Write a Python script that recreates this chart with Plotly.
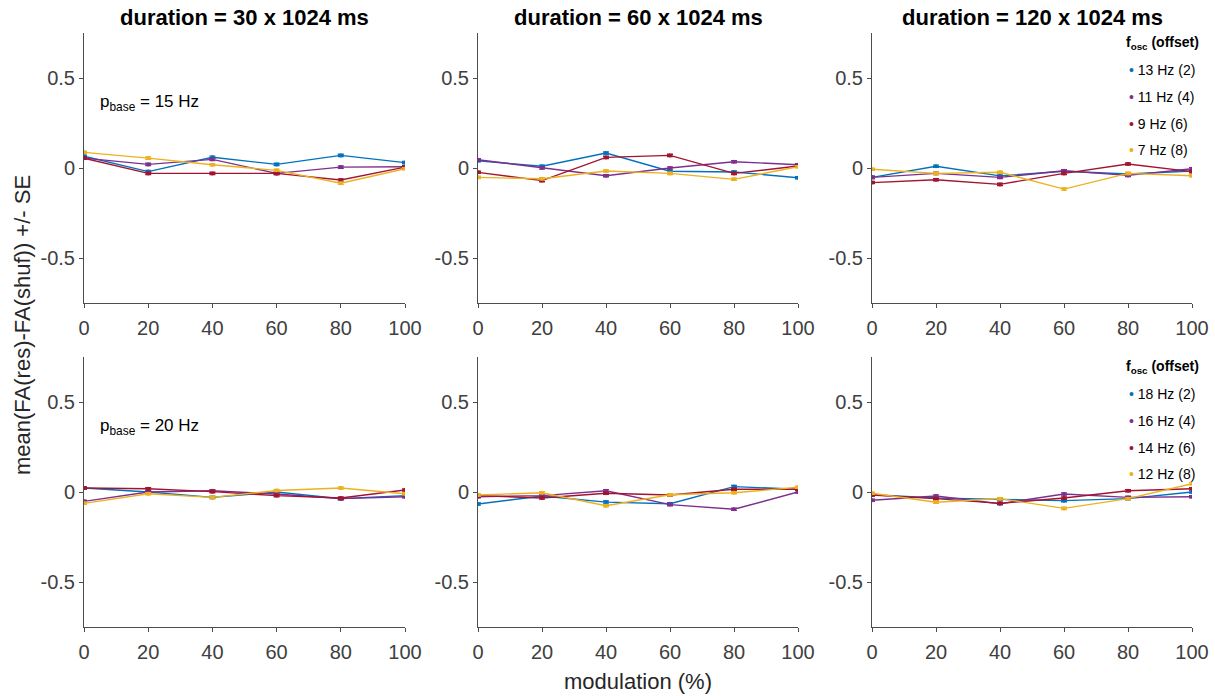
import plotly.graph_objects as go

# modulation depth (%) on the x axis
modulation = [0, 20, 40, 60, 80, 100]
durations = ["30", "60", "120"]
p_base = ["15", "20"]

# oscillation frequencies (offset) per base frequency
labels_15 = ["13 Hz (2)", "11 Hz (4)", "9 Hz (6)", "7 Hz (8)"]
labels_20 = ["18 Hz (2)", "16 Hz (4)", "14 Hz (6)", "12 Hz (8)"]

# mean(FA(res)-FA(shuf)), p_base = 15 Hz
p15_d30 = [
    [0.065, -0.02, 0.06, 0.02, 0.07, 0.03],
    [0.055, 0.02, 0.048, -0.03, 0.005, 0.007],
    [0.054, -0.03, -0.03, -0.03, -0.067, 0.005],
    [0.087, 0.055, 0.018, -0.013, -0.085, -0.004],
]
p15_d60 = [
    [0.04, 0.01, 0.083, -0.018, -0.022, -0.054],
    [0.046, 0.0, -0.043, 0.0, 0.035, 0.018],
    [-0.024, -0.07, 0.059, 0.07, -0.03, 0.011],
    [-0.052, -0.06, -0.017, -0.03, -0.063, 0.007],
]
p15_d120 = [
    [-0.052, 0.01, -0.044, -0.018, -0.033, -0.017],
    [-0.052, -0.03, -0.052, -0.015, -0.041, -0.004],
    [-0.081, -0.065, -0.091, -0.03, 0.022, -0.02],
    [-0.007, -0.03, -0.024, -0.117, -0.03, -0.043],
]

# mean(FA(res)-FA(shuf)), p_base = 20 Hz
p20_d30 = [
    [0.022, 0.0, -0.03, 0.0, -0.037, -0.02],
    [-0.052, 0.0, 0.007, -0.011, -0.037, -0.026],
    [0.022, 0.018, 0.002, -0.02, -0.033, 0.011],
    [-0.063, -0.01, -0.03, 0.008, 0.022, -0.01],
]
p20_d60 = [
    [-0.067, -0.022, -0.056, -0.065, 0.03, 0.015],
    [-0.026, -0.02, 0.007, -0.07, -0.096, 0.0],
    [-0.02, -0.033, -0.007, -0.017, 0.015, 0.015],
    [-0.017, -0.004, -0.076, -0.015, -0.004, 0.026],
]
p20_d120 = [
    [-0.015, -0.033, -0.041, -0.048, -0.037, 0.0],
    [-0.046, -0.022, -0.065, -0.011, -0.03, -0.026],
    [-0.017, -0.037, -0.063, -0.033, 0.007, 0.018],
    [-0.007, -0.057, -0.037, -0.091, -0.037, 0.046],
]

standard_error = 0.006

colors = ["#0072BD", "#7E2F8E", "#A2142F", "#EDB120"]
W, H = 1215, 696
FONT = "Liberation Sans, Arial, sans-serif"
TXT = "#262626"

panels = [
    [p15_d30, p15_d60, p15_d120],
    [p20_d30, p20_d60, p20_d120],
]

# pixel extents of the axes boxes
col_px = [(84, 405), (478, 798), (872, 1192)]
row_px = [(33, 303), (357, 627)]

fig = go.Figure()
layout = {}
idx = 0
for r in range(2):
    for c in range(3):
        idx += 1
        xa = "x" if idx == 1 else f"x{idx}"
        ya = "y" if idx == 1 else f"y{idx}"
        for s, series in enumerate(panels[r][c]):
            fig.add_trace(go.Scatter(
                x=modulation, y=series, xaxis=xa, yaxis=ya,
                mode="lines+markers",
                line=dict(color=colors[s], width=1.4),
                marker=dict(color=colors[s], size=4),
                error_y=dict(type="constant", value=standard_error,
                             color=colors[s], thickness=1.4, width=3),
                showlegend=False, hoverinfo="x+y",
            ))
        x0, x1 = col_px[c]
        y0, y1 = row_px[r]
        common = dict(
            showgrid=False, zeroline=False, showline=True, automargin=False,
            linecolor="#4d4d4d", linewidth=1, ticks="outside", ticklen=4,
            tickcolor="#4d4d4d", tickfont=dict(family=FONT, size=20, color="#404040"),
        )
        layout["xaxis" if idx == 1 else f"xaxis{idx}"] = dict(
            domain=[x0 / W, x1 / W], anchor=ya, range=[0, 100],
            tickvals=modulation, ticklabelstandoff=3, **common,
        )
        layout["yaxis" if idx == 1 else f"yaxis{idx}"] = dict(
            domain=[1 - y1 / H, 1 - y0 / H], anchor=xa, range=[-0.75, 0.75],
            tickvals=[-0.5, 0, 0.5], ticktext=["-0.5", "0", "0.5"], **common,
        )

annotations = []
# column titles
for c, d in enumerate(durations):
    x0, x1 = col_px[c]
    annotations.append(dict(
        x=(x0 + x1) / 2 / W, y=1 - 18 / H, xref="paper", yref="paper",
        text=f"<b>duration = {d} x 1024 ms</b>", showarrow=False,
        font=dict(family=FONT, size=22, color="#000000"),
        xanchor="center", yanchor="middle",
    ))

# base frequency labels
for r, pb in enumerate(p_base):
    annotations.append(dict(
        x=98 / W, y=1 - (row_px[r][0] + 70) / H, xref="paper", yref="paper",
        text=f"p<sub>base</sub> = {pb} Hz", showarrow=False,
        font=dict(family=FONT, size=17, color="#000000"),
        xanchor="left", yanchor="middle",
    ))

# legends for the oscillation frequencies
for r, labels in enumerate([labels_15, labels_20]):
    top = row_px[r][0]
    annotations.append(dict(
        x=1162 / W, y=1 - (top + 10) / H, xref="paper", yref="paper",
        text="<b>f<sub>osc</sub> (offset)</b>", showarrow=False,
        font=dict(family=FONT, size=14, color="#000000"),
        xanchor="center", yanchor="middle",
    ))
    for s, lab in enumerate(labels):
        annotations.append(dict(
            x=1127 / W, y=1 - (top + 37 + 26.8 * s) / H, xref="paper", yref="paper",
            text=f"<span style='color:{colors[s]}'>•</span> {lab}", showarrow=False,
            font=dict(family=FONT, size=14, color="#000000"),
            xanchor="left", yanchor="middle",
        ))

# shared axis titles
annotations.append(dict(
    x=22 / W, y=1 - 325 / H, xref="paper", yref="paper",
    text="mean(FA(res)-FA(shuf)) +/- SE", showarrow=False, textangle=-90,
    font=dict(family=FONT, size=22, color=TXT), xanchor="center", yanchor="middle",
))
annotations.append(dict(
    x=638 / W, y=1 - 681 / H, xref="paper", yref="paper",
    text="modulation (%)", showarrow=False,
    font=dict(family=FONT, size=22, color=TXT), xanchor="center", yanchor="middle",
))

fig.update_layout(
    width=W, height=H, margin=dict(l=0, r=0, t=0, b=0, autoexpand=False),
    paper_bgcolor="white", plot_bgcolor="white",
    annotations=annotations, **layout,
)

fig.write_html("out.html")
